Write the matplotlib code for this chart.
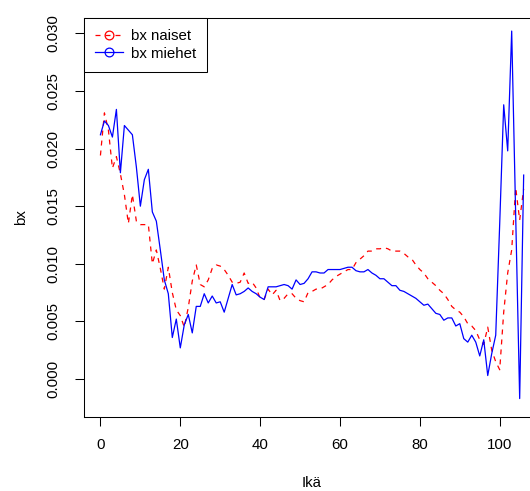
import matplotlib
matplotlib.use("Agg")
import matplotlib.pyplot as plt
import numpy as np

plt.rcParams['font.family'] = ['Liberation Sans', 'DejaVu Sans']

# ikä 0..106
ika = np.arange(0, 107)

# bx naiset (luettu kuvasta)
bx_naiset = [
    0.0194, 0.0231, 0.0216, 0.0183, 0.0193, 0.0178, 0.0160, 0.0135, 0.0160, 0.0137,
    0.0134, 0.0134, 0.0134, 0.0100, 0.0112, 0.0096, 0.0078, 0.0097, 0.0075, 0.0060,
    0.0055, 0.0045, 0.0062, 0.0085, 0.0099, 0.0082, 0.0080, 0.0086, 0.0096, 0.0099,
    0.0098, 0.0095, 0.0090, 0.0084, 0.0083, 0.0084, 0.0092, 0.0083, 0.0084, 0.0079,
    0.0070, 0.0069, 0.0078, 0.0073, 0.0077, 0.0068, 0.0070, 0.0074, 0.0074, 0.0070,
    0.0068, 0.0067, 0.0075, 0.0076, 0.0078, 0.0078, 0.0080, 0.0082, 0.0086, 0.0089,
    0.0091, 0.0093, 0.0095, 0.0095, 0.0101, 0.0104, 0.0107, 0.0111, 0.0111, 0.0113,
    0.0113, 0.0114, 0.0113, 0.0111, 0.0111, 0.0111, 0.0109, 0.0106, 0.0104, 0.0099,
    0.0095, 0.0092, 0.0087, 0.0084, 0.0081, 0.0077, 0.0074, 0.0069, 0.0063, 0.0060,
    0.0058, 0.0054, 0.0048, 0.0046, 0.0042, 0.0034, 0.0030, 0.0045, 0.0025, 0.0015,
    0.0008, 0.0058, 0.0092, 0.0112, 0.0166, 0.0138, 0.0165,
]

# bx miehet (luettu kuvasta)
bx_miehet = [
    0.0212, 0.0224, 0.0220, 0.0210, 0.0234, 0.0179, 0.0220, 0.0216, 0.0212, 0.0184,
    0.0150, 0.0173, 0.0182, 0.0145, 0.0137, 0.0112, 0.0086, 0.0074, 0.0036, 0.0052,
    0.0027, 0.0047, 0.0056, 0.0040, 0.0063, 0.0063, 0.0074, 0.0066, 0.0072, 0.0066,
    0.0067, 0.0058, 0.0070, 0.0082, 0.0073, 0.0074, 0.0076, 0.0079, 0.0076, 0.0074,
    0.0071, 0.0069, 0.0080, 0.0080, 0.0080, 0.0081, 0.0082, 0.0081, 0.0078, 0.0086,
    0.0082, 0.0083, 0.0087, 0.0093, 0.0093, 0.0092, 0.0092, 0.0095, 0.0095, 0.0095,
    0.0095, 0.0096, 0.0097, 0.0097, 0.0094, 0.0093, 0.0093, 0.0095, 0.0092, 0.0090,
    0.0087, 0.0087, 0.0084, 0.0081, 0.0081, 0.0077, 0.0076, 0.0074, 0.0072, 0.0070,
    0.0067, 0.0064, 0.0065, 0.0061, 0.0057, 0.0056, 0.0051, 0.0053, 0.0053, 0.0046,
    0.0048, 0.0035, 0.0032, 0.0038, 0.0032, 0.0020, 0.0034, 0.0003, 0.0022, 0.0038,
    0.0135, 0.0238, 0.0198, 0.0302, 0.0142, -0.0017, 0.0177,
]

y_ticks = [0.000, 0.005, 0.010, 0.015, 0.020, 0.025, 0.030]
x_ticks = [0, 20, 40, 60, 80, 100]

fs = 10.8
lw = 0.9
viiva = (0, (4, 4))

fig = plt.figure(figsize=(5.30, 4.91), dpi=100)
# R-tyylinen laatikko, oikea reuna jää kuvan ulkopuolelle
ax = fig.add_axes([83.5 / 530, 74 / 491, 457.1 / 530, 399.3 / 491])

ax.plot(ika, bx_naiset, color='red', linewidth=lw, linestyle=viiva, label='bx naiset')
ax.plot(ika, bx_miehet, color='blue', linewidth=lw, label='bx miehet')

ax.set_xlim(-4.24, 110.24)
ax.set_ylim(-0.0033, 0.03136)
ax.set_xticks(x_ticks)
ax.set_yticks(y_ticks)
ax.set_xticklabels([str(t) for t in x_ticks])
ax.set_yticklabels(['%.3f' % t for t in y_ticks], rotation=90, va='center')
ax.tick_params(axis='both', direction='out', length=6.5, width=0.75,
               labelsize=fs, color='black')
ax.tick_params(axis='x', pad=8.5)
ax.tick_params(axis='y', pad=10)
for s in ax.spines.values():
    s.set_linewidth(0.75)

ax.set_xlabel('Ikä', fontsize=fs)
ax.set_ylabel('bx', fontsize=fs)
ax.xaxis.set_label_coords(0.5, -0.147)
ax.yaxis.set_label_coords(-0.122, 0.5)

# legendan viivoihin ympyrämerkit kuten R:n pch=1
h1, = ax.plot([], [], color='red', linewidth=lw, linestyle=viiva,
              marker='o', markerfacecolor='none', markersize=6.3, markeredgewidth=lw)
h2, = ax.plot([], [], color='blue', linewidth=lw,
              marker='o', markerfacecolor='none', markersize=6.3, markeredgewidth=lw)
leg = ax.legend([h1, h2], ['bx naiset', 'bx miehet'], loc='upper left',
                borderaxespad=0, fontsize=fs, fancybox=False, framealpha=1,
                edgecolor='black', numpoints=1, handlelength=1.9,
                borderpad=0.75, labelspacing=0.25, handletextpad=0.5)
leg.get_frame().set_linewidth(0.75)

fig.savefig('out.png', dpi=100)
